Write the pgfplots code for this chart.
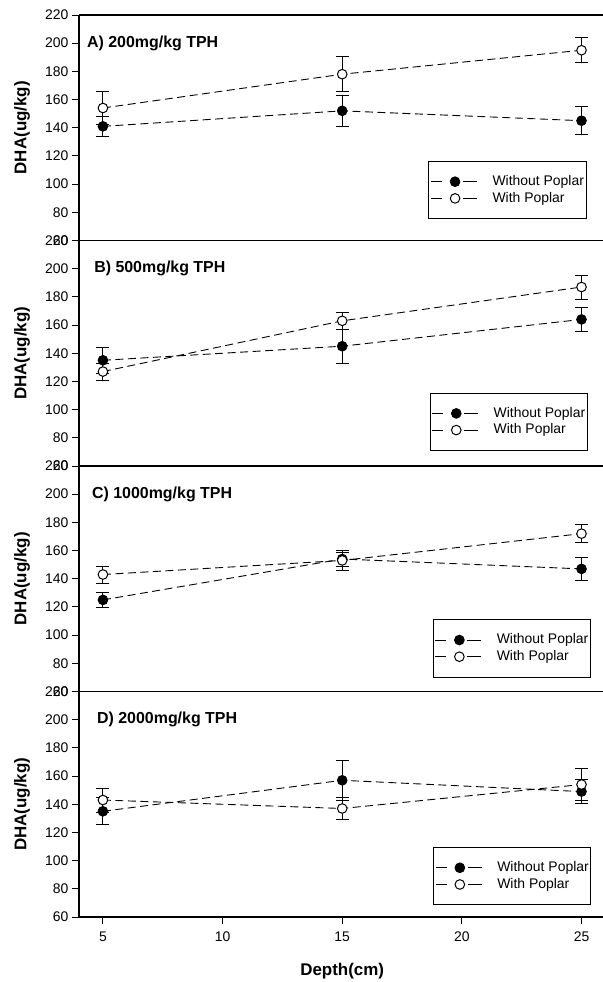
\documentclass[border=0pt]{standalone}
\usepackage{fontspec}
\setmainfont{Liberation Sans}
\usepackage{pgfplots}
\pgfplotsset{compat=1.18}
\tikzset{ttl/.style={anchor=west, font=\fontsize{16}{18}\selectfont\bfseries, inner sep=0pt}}
\begin{document}
\begin{tikzpicture}
\pgfplotsset{
  panel/.style={
    scale only axis, width=538.4bp, height=225.5bp,
    xmin=4, xmax=26.5, ymin=60, ymax=220,
    ytick={60,80,...,220},
    axis x line=box, axis y line=left, axis line style={-},
    x axis line style={line width=1.1bp},
    y axis line style={line width=1.7bp},
    ytick pos=left, xtick pos=left,
    tick align=outside, major tick length=7bp,
    tick style={line width=1bp, black},
    tick label style={font=\fontsize{14}{16}\selectfont},
    /pgf/number format/assume math mode=true,
    ylabel={DHA(ug/kg)},
    ylabel style={font=\fontsize{17}{20}\selectfont\bfseries, at={(axis description cs:-0.1059,0.5)}, anchor=center},
    legend cell align=left,
    legend image code/.code={
      \draw[##1, solid, mark=none] (0bp,0bp) -- (11bp,0bp);
      \draw[##1, solid, mark=none] (32bp,0bp) -- (46bp,0bp);
      \draw[##1] plot coordinates {(24bp,0bp)};
    },
    legend style={anchor=south east, draw=black, line width=0.6bp,
      font=\fontsize{14}{16}\selectfont, inner xsep=2bp, inner ysep=12.5bp, row sep=1.2bp,
      nodes={inner xsep=0bp, inner ysep=1bp, text height=10.5bp, text depth=3bp},
      /tikz/every odd column/.append style={column sep=15bp}},
    clip=false,
  },
  wo/.style={black, line width=0.9bp, dash pattern=on 8bp off 4.5bp, mark=*, mark size=4.8bp,
    mark options={solid, fill=black, line width=1bp},
    error bars/.cd, y dir=both, y explicit, error bar style={solid, line width=0.9bp},
    error mark options={rotate=90, mark size=6.5bp, line width=0.9bp, solid}},
  wi/.style={black, line width=0.9bp, dash pattern=on 8bp off 4.5bp, mark=*, mark size=4.8bp,
    mark options={solid, fill=white, line width=1bp},
    error bars/.cd, y dir=both, y explicit, error bar style={solid, line width=0.9bp},
    error mark options={rotate=90, mark size=6.5bp, line width=0.9bp, solid}},
}
% Panel A
\begin{axis}[panel, at={(79bp,-240.5bp)}, anchor=south west, xtick=\empty,
  legend style={at={(axis cs:25.2,75.3)}}]
\addplot+[wo] coordinates {(5,141) +- (0,7) (15,152) +- (0,11) (25,145) +- (0,10)};
\addlegendentry{Without Poplar\hspace{8bp}}
\addplot+[wi] coordinates {(5,154) +- (0,12) (15,178) +- (0,12.5) (25,195) +- (0,9)};
\addlegendentry{With Poplar}
\node[ttl] at (axis cs:4.33,200) {A) 200mg/kg TPH};
\end{axis}
% Panel B
\begin{axis}[panel, at={(79bp,-466bp)}, anchor=south west, xtick=\empty,
  legend style={at={(axis cs:25.25,70.9)}}]
\addplot+[wo] coordinates {(5,135) +- (0,9) (15,145) +- (0,12) (25,164) +- (0,8.5)};
\addlegendentry{Without Poplar\hspace{8bp}}
\addplot+[wi] coordinates {(5,127) +- (0,6) (15,163) +- (0,6) (25,187) +- (0,8.5)};
\addlegendentry{With Poplar}
\node[ttl] at (axis cs:4.63,200) {B) 500mg/kg TPH};
\end{axis}
% Panel C
\begin{axis}[panel, at={(79bp,-691.5bp)}, anchor=south west, xtick=\empty,
  legend style={at={(axis cs:25.38,70.1)}}]
\addplot+[wo] coordinates {(5,125) +- (0,5.5) (15,154) +- (0,5) (25,147) +- (0,8)};
\addlegendentry{Without Poplar\hspace{8bp}}
\addplot+[wi] coordinates {(5,143) +- (0,6) (15,153) +- (0,7) (25,172) +- (0,6.5)};
\addlegendentry{With Poplar}
\node[ttl] at (axis cs:4.54,200) {C) 1000mg/kg TPH};
\end{axis}
% Panel D
\begin{axis}[panel, at={(79bp,-917bp)}, anchor=south west, xtick={5,10,15,20,25},
  xticklabel style={yshift=-4bp},
  xlabel={Depth(cm)},
  xlabel style={font=\fontsize{17}{20}\selectfont\bfseries, at={(axis cs:15,60)}, anchor=center, yshift=-54bp},
  legend style={at={(axis cs:25.4,68.5)}}]
\addplot+[wo] coordinates {(5,135) +- (0,9.5) (15,157) +- (0,14) (25,149) +- (0,8.5)};
\addlegendentry{Without Poplar\hspace{8bp}}
\addplot+[wi] coordinates {(5,143) +- (0,8.5) (15,137) +- (0,8) (25,154) +- (0,11.5)};
\addlegendentry{With Poplar}
\node[ttl] at (axis cs:4.75,200) {D) 2000mg/kg TPH};
\end{axis}
\pgfresetboundingbox
\path[use as bounding box] (0bp,0bp) rectangle (603bp,-982bp);
\end{tikzpicture}
\end{document}
